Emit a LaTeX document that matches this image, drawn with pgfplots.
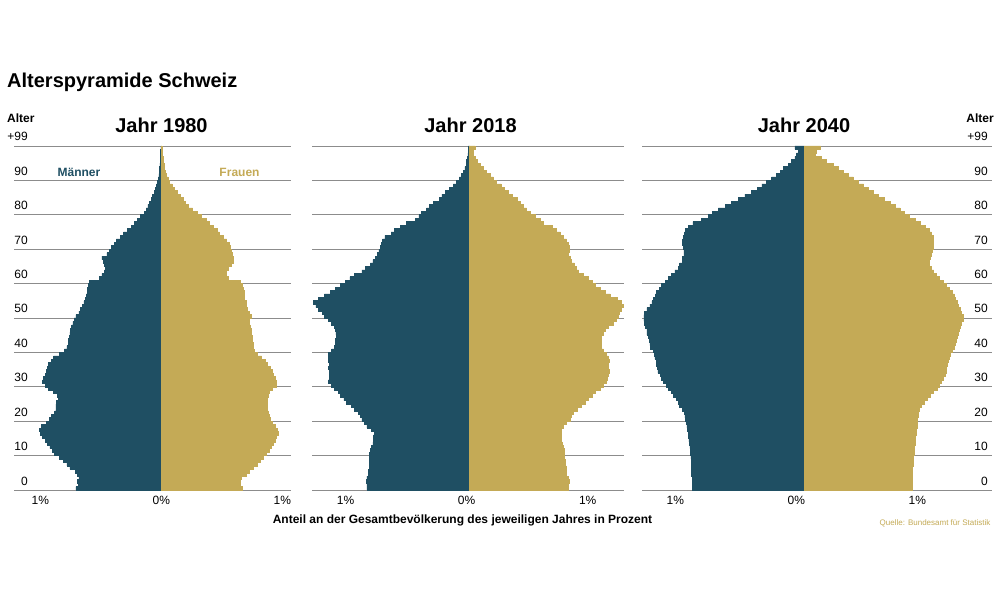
\documentclass[border=0pt]{standalone}
\usepackage{fontspec}
\setmainfont{Liberation Sans}
\usepackage{pgfplots}
\usepackage{pgfplotstable}
\pgfplotsset{compat=1.18}
\definecolor{maenner}{HTML}{1F4F63}
\definecolor{frauen}{HTML}{C4AA56}
\definecolor{gridc}{HTML}{8C8C8C}

% Jahr 1980: Alter, Maenner (%), Frauen (%)
\pgfplotstableread{
age m f
0 0.705 0.67
1 0.685 0.65
2 0.69 0.655
3 0.68 0.665
4 0.69 0.705
5 0.71 0.73
6 0.755 0.76
7 0.78 0.79
8 0.81 0.815
9 0.84 0.84
10 0.88 0.87
11 0.90 0.89
12 0.92 0.91
13 0.94 0.925
14 0.96 0.94
15 0.98 0.95
16 1.00 0.97
17 1.01 0.96
18 0.99 0.94
19 0.95 0.92
20 0.925 0.90
21 0.905 0.89
22 0.88 0.885
23 0.87 0.875
24 0.87 0.88
25 0.865 0.88
26 0.85 0.88
27 0.86 0.885
28 0.89 0.89
29 0.93 0.92
30 0.96 0.95
31 0.98 0.95
32 0.975 0.94
33 0.96 0.93
34 0.95 0.92
35 0.94 0.90
36 0.93 0.88
37 0.91 0.86
38 0.89 0.83
39 0.84 0.79
40 0.80 0.765
41 0.78 0.76
42 0.77 0.76
43 0.765 0.755
44 0.76 0.75
45 0.755 0.745
46 0.75 0.74
47 0.74 0.735
48 0.73 0.73
49 0.72 0.73
50 0.705 0.74
51 0.68 0.73
52 0.67 0.71
53 0.65 0.705
54 0.64 0.70
55 0.63 0.69
56 0.62 0.685
57 0.61 0.685
58 0.61 0.68
59 0.60 0.67
60 0.595 0.65
61 0.51 0.55
62 0.49 0.535
63 0.47 0.54
64 0.46 0.55
65 0.47 0.58
66 0.48 0.595
67 0.49 0.595
68 0.45 0.59
69 0.43 0.58
70 0.415 0.57
71 0.39 0.56
72 0.37 0.54
73 0.34 0.51
74 0.31 0.48
75 0.28 0.46
76 0.25 0.43
77 0.225 0.40
78 0.20 0.37
79 0.17 0.33
80 0.14 0.30
81 0.125 0.26
82 0.11 0.22
83 0.095 0.20
84 0.08 0.18
85 0.07 0.155
86 0.06 0.13
87 0.05 0.11
88 0.04 0.09
89 0.03 0.07
90 0.023 0.055
91 0.019 0.045
92 0.016 0.035
93 0.013 0.028
94 0.011 0.022
95 0.009 0.017
96 0.007 0.013
97 0.005 0.01
98 0.004 0.007
99 0.003 0.005
}\tabA

% Jahr 2018
\pgfplotstableread{
age m f
0 0.85 0.815
1 0.85 0.815
2 0.855 0.82
3 0.85 0.815
4 0.84 0.80
5 0.84 0.80
6 0.83 0.80
7 0.83 0.79
8 0.83 0.79
9 0.83 0.78
10 0.83 0.78
11 0.82 0.78
12 0.81 0.774
13 0.80 0.766
14 0.795 0.76
15 0.795 0.76
16 0.79 0.755
17 0.81 0.755
18 0.85 0.774
19 0.87 0.80
20 0.89 0.83
21 0.905 0.843
22 0.92 0.857
23 0.95 0.89
24 0.975 0.92
25 1.02 0.955
26 1.04 0.98
27 1.07 1.01
28 1.085 1.035
29 1.12 1.08
30 1.14 1.105
31 1.17 1.13
32 1.16 1.14
33 1.16 1.146
34 1.16 1.15
35 1.17 1.146
36 1.16 1.146
37 1.17 1.15
38 1.17 1.146
39 1.17 1.13
40 1.14 1.105
41 1.12 1.09
42 1.11 1.085
43 1.11 1.09
44 1.10 1.09
45 1.105 1.105
46 1.11 1.12
47 1.12 1.146
48 1.14 1.19
49 1.17 1.215
50 1.20 1.23
51 1.22 1.24
52 1.25 1.256
53 1.27 1.27
54 1.29 1.256
55 1.25 1.22
56 1.20 1.16
57 1.15 1.12
58 1.11 1.08
59 1.07 1.035
60 1.03 1.01
61 0.99 0.98
62 0.95 0.94
63 0.89 0.90
64 0.86 0.885
65 0.82 0.865
66 0.80 0.84
67 0.78 0.83
68 0.76 0.815
69 0.75 0.82
70 0.74 0.82
71 0.73 0.815
72 0.72 0.80
73 0.70 0.77
74 0.65 0.75
75 0.62 0.72
76 0.575 0.68
77 0.52 0.61
78 0.45 0.58
79 0.42 0.54
80 0.40 0.50
81 0.355 0.47
82 0.33 0.44
83 0.30 0.415
84 0.25 0.39
85 0.23 0.35
86 0.20 0.32
87 0.17 0.29
88 0.135 0.26
89 0.107 0.22
90 0.085 0.195
91 0.066 0.17
92 0.05 0.14
93 0.04 0.11
94 0.03 0.085
95 0.024 0.066
96 0.017 0.05
97 0.014 0.03
98 0.012 0.03
99 0.01 0.045
}\tabB

% Jahr 2040
\pgfplotstableread{
age m f
0 0.926 0.89
1 0.926 0.89
2 0.926 0.89
3 0.926 0.893
4 0.93 0.893
5 0.93 0.895
6 0.93 0.895
7 0.93 0.898
8 0.934 0.90
9 0.937 0.904
10 0.94 0.906
11 0.942 0.91
12 0.945 0.912
13 0.95 0.915
14 0.953 0.917
15 0.96 0.92
16 0.96 0.923
17 0.967 0.928
18 0.97 0.93
19 0.975 0.934
20 0.98 0.937
21 0.986 0.94
22 0.99 0.94
23 1.005 0.95
24 1.03 0.97
25 1.04 0.99
26 1.06 1.017
27 1.08 1.044
28 1.10 1.07
29 1.12 1.10
30 1.14 1.12
31 1.165 1.135
32 1.18 1.15
33 1.19 1.163
34 1.21 1.17
35 1.215 1.176
36 1.22 1.18
37 1.225 1.19
38 1.234 1.20
39 1.24 1.21
40 1.25 1.226
41 1.27 1.237
42 1.275 1.245
43 1.28 1.26
44 1.29 1.265
45 1.30 1.273
46 1.30 1.278
47 1.31 1.287
48 1.32 1.30
49 1.325 1.314
50 1.325 1.314
51 1.32 1.30
52 1.30 1.287
53 1.275 1.273
54 1.26 1.265
55 1.25 1.25
56 1.23 1.24
57 1.22 1.22
58 1.20 1.20
59 1.18 1.176
60 1.15 1.15
61 1.12 1.12
62 1.10 1.09
63 1.07 1.07
64 1.04 1.05
65 1.03 1.03
66 1.01 1.03
67 1.005 1.04
68 0.995 1.05
69 0.995 1.06
70 1.00 1.066
71 1.005 1.07
72 1.005 1.07
73 1.00 1.066
74 0.99 1.05
75 0.98 1.03
76 0.96 1.00
77 0.92 0.955
78 0.85 0.915
79 0.79 0.87
80 0.76 0.83
81 0.71 0.79
82 0.655 0.75
83 0.60 0.71
84 0.545 0.66
85 0.49 0.61
86 0.44 0.57
87 0.39 0.53
88 0.35 0.49
89 0.31 0.446
90 0.27 0.405
91 0.23 0.36
92 0.20 0.32
93 0.17 0.28
94 0.13 0.24
95 0.105 0.185
96 0.077 0.14
97 0.063 0.09
98 0.05 0.10
99 0.077 0.135
}\tabC

\pgfplotsset{
  pyr/.style={
    x=121pt, y=3.44pt, ymin=0, ymax=100, enlargelimits=false,
    axis line style={draw=none}, tick style={draw=none},
    major tick length=0pt,
    ytick={0,10,20,30,40,50,60,70,80,90,100},
    ymajorgrids, major grid style={gridc, line width=0.8pt},
    xtick={-1,0,1}, xticklabels={1\%,0\%,1\%},
    /pgf/number format/assume math mode=true,
    xticklabel style={anchor=base, inner sep=0pt, yshift=-14pt,
      font=\fontsize{12}{14}\selectfont},
    yticklabel style={font=\fontsize{12}{14}\selectfont},
  },
  mbar/.style={xbar, bar width=1, bar shift=0pt, fill=maenner, draw=maenner, line width=0.6pt},
  fbar/.style={xbar, bar width=1, bar shift=0pt, fill=frauen, draw=frauen, line width=0.6pt},
}

\begin{document}
\begin{tikzpicture}
\fill[white] (0pt,0pt) rectangle (1000pt,600pt);
\path[use as bounding box] (0pt,0pt) rectangle (1000pt,600pt);

% Panel 1980
\begin{axis}[pyr, at={(14pt,110pt)}, anchor=south west,
  xmin=-1.217, xmax=1.072,
  yticklabels={0,10,20,30,40,50,60,70,80,90,+99},
  yticklabel style={anchor=base east, inner sep=0pt, xshift=14pt, yshift=5pt}]
\addplot[mbar] table[x expr=-\thisrow{m}, y expr=\thisrow{age}+0.5]{\tabA};
\addplot[fbar] table[x expr=\thisrow{f}, y expr=\thisrow{age}+0.5]{\tabA};
\end{axis}

% Panel 2018
\begin{axis}[pyr, at={(312pt,110pt)}, anchor=south west,
  xmin=-1.303, xmax=1.275,
  yticklabels={},
  xticklabel style={xshift=-3pt}]
\addplot[mbar] table[x expr=-\thisrow{m}, y expr=\thisrow{age}+0.5]{\tabB};
\addplot[fbar] table[x expr=\thisrow{f}, y expr=\thisrow{age}+0.5]{\tabB};
\end{axis}

% Panel 2040
\begin{axis}[pyr, at={(642pt,110pt)}, anchor=south west,
  xmin=-1.341, xmax=1.551,
  yticklabel pos=right,
  yticklabels={0,10,20,30,40,50,60,70,80,90,+99},
  yticklabel style={anchor=base east, inner sep=0pt, xshift=-4pt, yshift=5pt},
  xticklabel style={xshift=-8pt}]
\addplot[mbar] table[x expr=-\thisrow{m}, y expr=\thisrow{age}+0.5]{\tabC};
\addplot[fbar] table[x expr=\thisrow{f}, y expr=\thisrow{age}+0.5]{\tabC};
\end{axis}

% Texts
\node[anchor=base west, inner sep=0pt, font=\fontsize{20}{24}\selectfont\bfseries] at (7pt,512pt) {Alterspyramide Schweiz};
\node[anchor=base west, inner sep=0pt, font=\fontsize{12}{14}\selectfont\bfseries] at (7pt,477pt) {Alter};
\node[anchor=base east, inner sep=0pt, font=\fontsize{12}{14}\selectfont\bfseries] at (994pt,477pt) {Alter};
\node[anchor=base, inner sep=0pt, font=\fontsize{20}{24}\selectfont\bfseries] at (161.5pt,467pt) {Jahr 1980};
\node[anchor=base, inner sep=0pt, font=\fontsize{20}{24}\selectfont\bfseries] at (470.5pt,467pt) {Jahr 2018};
\node[anchor=base, inner sep=0pt, font=\fontsize{20}{24}\selectfont\bfseries] at (804pt,467pt) {Jahr 2040};
\node[anchor=base, inner sep=0pt, text=maenner, font=\fontsize{12}{14}\selectfont\bfseries] at (79pt,423.5pt) {Männer};
\node[anchor=base, inner sep=0pt, text=frauen, font=\fontsize{12}{14}\selectfont\bfseries] at (239.5pt,423.5pt) {Frauen};
\node[anchor=base, inner sep=0pt, font=\fontsize{12}{14}\selectfont\bfseries] at (462.5pt,77pt) {Anteil an der Gesamtbevölkerung des jeweiligen Jahres in Prozent};
\node[anchor=base east, inner sep=0pt, text=frauen, font=\fontsize{8}{10}\selectfont] at (990.5pt,74.5pt) {Quelle: Bundesamt für Statistik};
\end{tikzpicture}
\end{document}
